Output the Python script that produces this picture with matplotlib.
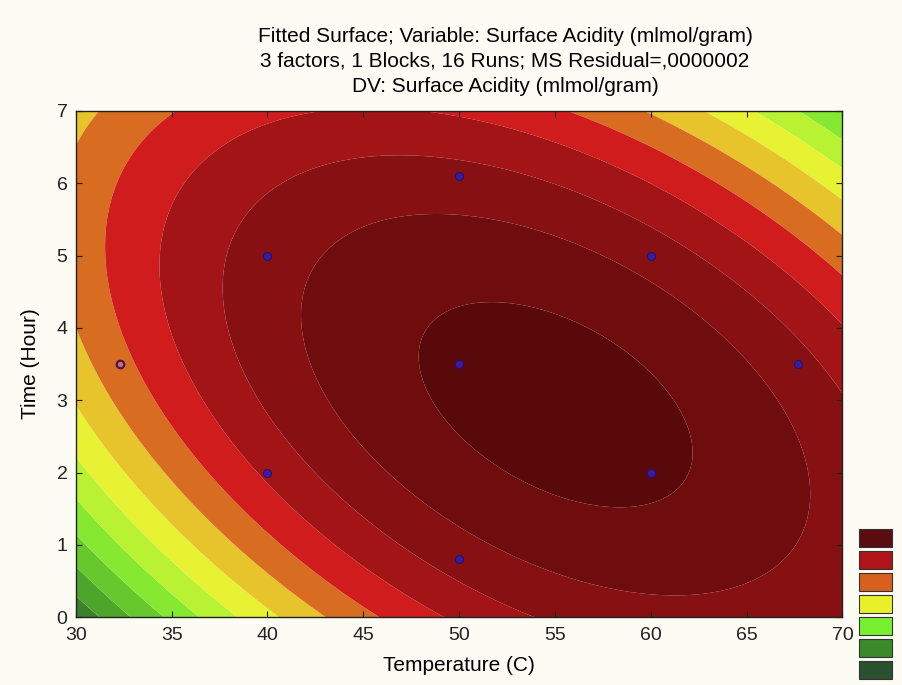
import numpy as np
import matplotlib
matplotlib.use("Agg")
import matplotlib.pyplot as plt
from matplotlib.patches import Rectangle

plt.rcParams['font.family'] = ['Liberation Sans', 'DejaVu Sans']

# design points (temperature C, time hour) and observed surface acidity
temperature = [32.3, 40, 40, 50, 50, 50, 60, 60, 67.7]
time_hour = [3.5, 2, 5, 0.8, 3.5, 6.1, 2, 5, 3.5]
acidity = [0.3936, 0.4230, 0.4496, 0.4493, 0.4844, 0.4463, 0.4828, 0.4515, 0.4467]

# contour band limits (mlmol/gram)
levels = [-1.0, 0.22, 0.24, 0.26, 0.28, 0.30, 0.32, 0.34, 0.36, 0.38,
          0.40, 0.42, 0.44, 0.46, 0.48, 1.0]
band_colors = ['#1e4426', '#2a5f28', '#3a8229', '#4ea52b', '#66c82d',
               '#86e830', '#b8f232', '#e6f232', '#e8c42c', '#d86c20',
               '#d01c1c', '#a31416', '#871012', '#6e0c0e', '#5a090b']
legend_colors = ['#5a0c10', '#b01418', '#d8601e', '#e8f02a',
                 '#78f030', '#3a8a2a', '#2a5030']

# quadratic fit of the response surface
T = np.array(temperature)
H = np.array(time_hour)
A = np.column_stack([np.ones_like(T), T, H, T**2, H**2, T*H])
coef, *_ = np.linalg.lstsq(A, np.array(acidity), rcond=None)

tg, hg = np.meshgrid(np.linspace(30, 70, 500), np.linspace(0, 7, 400))
zg = (coef[0] + coef[1]*tg + coef[2]*hg + coef[3]*tg**2
      + coef[4]*hg**2 + coef[5]*tg*hg)

fig = plt.figure(figsize=(9.02, 6.85), dpi=100, facecolor='#fcfcf4')
ax = fig.add_axes([0.084, 0.099, 0.85, 0.739])
ax.contourf(tg, hg, zg, levels=levels, colors=band_colors, antialiased=True)

ax.scatter(temperature[1:], time_hour[1:], s=34, color='#3c1c9c',
           edgecolors='#2a1070', linewidths=0.8, zorder=3)
ax.scatter(temperature[:1], time_hour[:1], s=30, facecolors='#c07070',
           edgecolors='#4a1050', linewidths=1.5, zorder=3)

ax.set_xlim(30, 70)
ax.set_ylim(0, 7)
ax.set_xticks(range(30, 71, 5))
ax.set_yticks(range(0, 8))
ax.tick_params(direction='in', length=4, width=0.8, labelsize=14,
               top=True, right=True, colors='#222222')
ax.tick_params(axis='x', pad=7)
ax.tick_params(axis='y', pad=6)
for s in ax.spines.values():
    s.set_linewidth(1.0)
    s.set_color('#222222')
ax.set_xlabel('Temperature (C)', fontsize=15, labelpad=9)
ax.set_ylabel('Time (Hour)', fontsize=15, labelpad=12)

fig.text(0.56, 0.946, 'Fitted Surface; Variable: Surface Acidity (mlmol/gram)',
         ha='center', va='center', fontsize=15)
fig.text(0.56, 0.911, '3 factors, 1 Blocks, 16 Runs; MS Residual=,0000002',
         ha='center', va='center', fontsize=15)
fig.text(0.56, 0.874, 'DV: Surface Acidity (mlmol/gram)',
         ha='center', va='center', fontsize=15)

# legend swatches
for i, c in enumerate(legend_colors):
    y0 = 1 - (529 + 22 * i + 18) / 685
    fig.patches.append(Rectangle((859 / 902, y0), 33 / 902, 18 / 685,
                                 transform=fig.transFigure, facecolor=c,
                                 edgecolor='#333333', linewidth=0.8))

fig.savefig('out.png', dpi=100, facecolor=fig.get_facecolor())
